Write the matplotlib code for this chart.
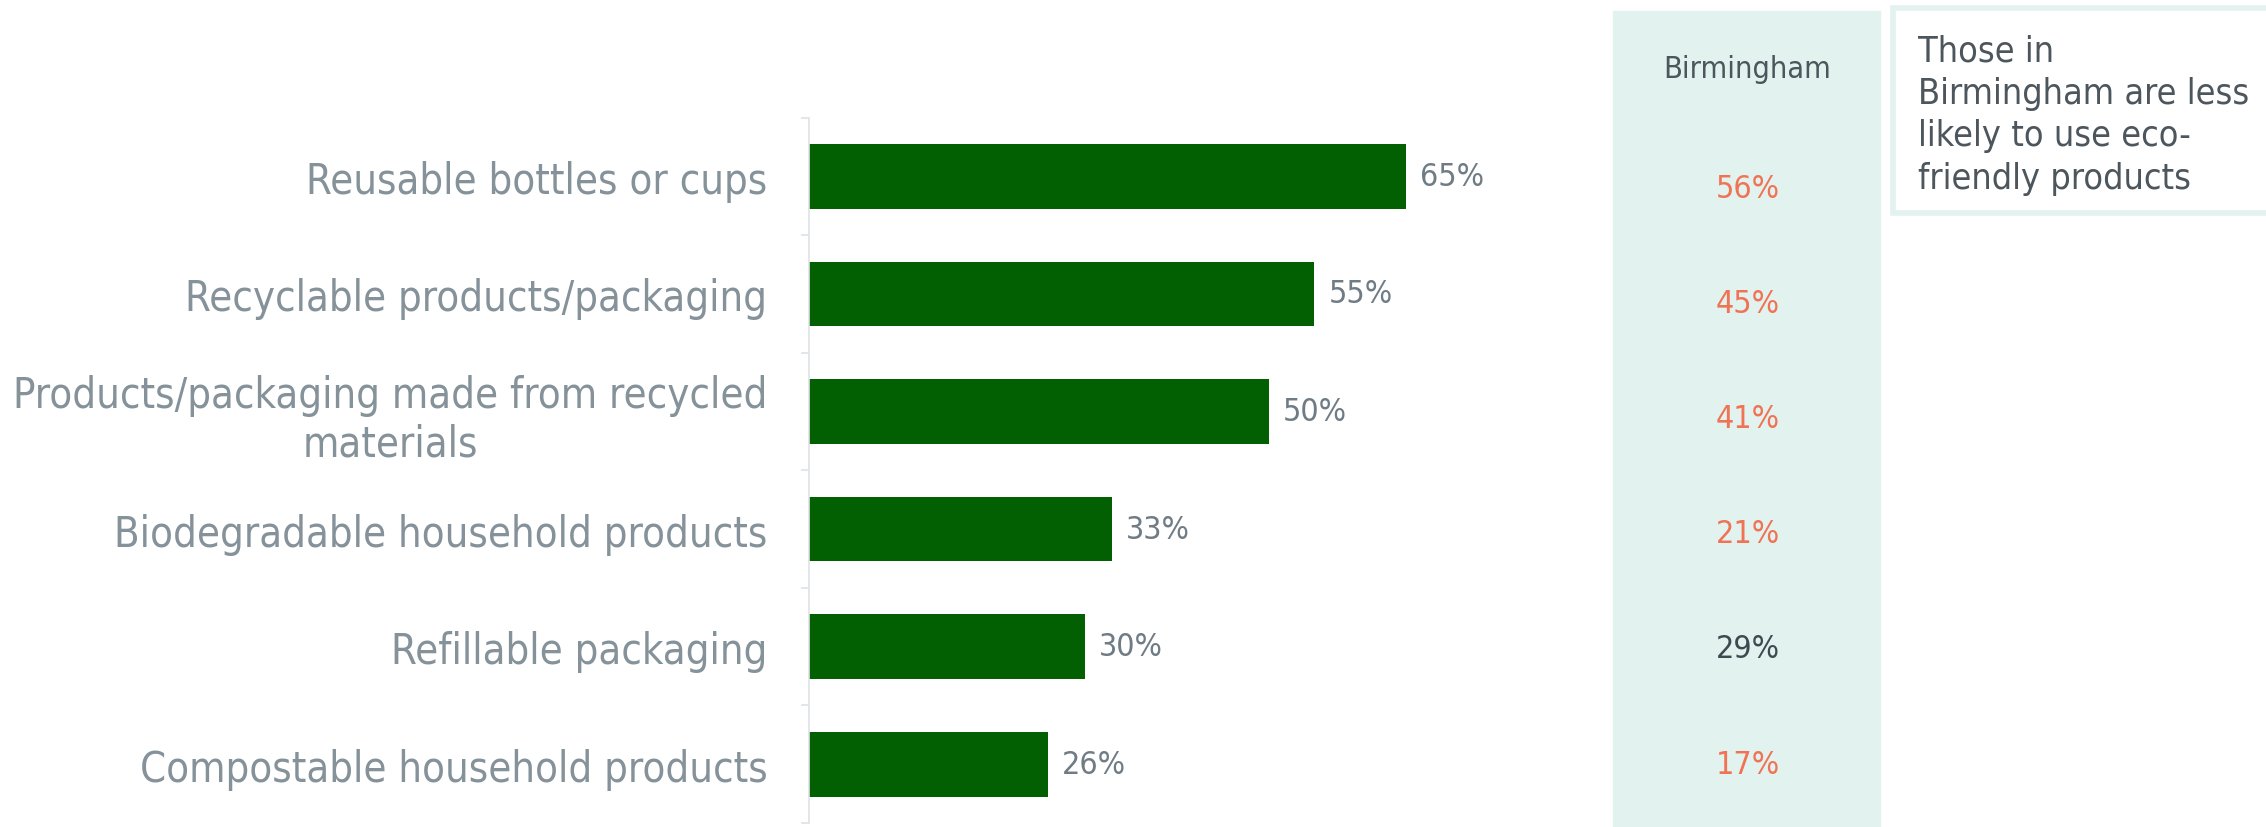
import matplotlib.pyplot as plt
from matplotlib.patches import Rectangle
from matplotlib.transforms import blended_transform_factory

categories = [
    "Reusable bottles or cups",
    "Recyclable products/packaging",
    "Products/packaging made from recycled\nmaterials",
    "Biodegradable household products",
    "Refillable packaging",
    "Compostable household products",
]
overall = [65, 55, 50, 33, 30, 26]
birmingham = [56, 45, 41, 21, 29, 17]
# regional figures that are notably lower get highlighted
highlight = [True, True, True, True, False, True]
note = "Those in\nBirmingham are less\nlikely to use eco-\nfriendly products"

plt.rcParams["font.family"] = ["DejaVu Sans"]
plt.rcParams["font.stretch"] = "condensed"

W, H = 2266, 828
fig = plt.figure(figsize=(W / 100, H / 100), dpi=100)

# bar chart area (kept above the figure-level panels)
ax = fig.add_axes([809 / W, 1 - 824 / H, 86 * 9.19 / W, (824 - 118.5) / H])
ax.set_zorder(3)
ax.patch.set_visible(False)
y = list(range(len(categories)))
bars = ax.barh(y, overall, height=0.55, color="#025f02")
ax.set_xlim(0, 86)
ax.set_ylim(len(categories) - 0.5, -0.5)

ax.set_yticks(y)
ax.set_yticklabels(categories, fontsize=30, color="#85929a", multialignment="center")
ax.tick_params(axis="y", which="major", length=0, pad=30)
ax.set_yticks([i - 0.5 for i in range(len(categories) + 1)], minor=True)
ax.tick_params(axis="y", which="minor", length=6, width=1.2, color="#dfe3e5")
ax.set_xticks([])
for s in ["top", "right", "bottom"]:
    ax.spines[s].set_visible(False)
ax.spines["left"].set_color("#dfe3e5")
ax.spines["left"].set_linewidth(1.2)

ax.bar_label(bars, labels=[f"{v}%" for v in overall], padding=10,
             fontsize=23, color="#6f7c85")

# Birmingham column
fig.patches.append(Rectangle((1613 / W, 0), 267 / W, (H - 11.5) / H,
                             transform=fig.transFigure, color="#e2f2ee", zorder=0))
fig.text(1747 / W, 1 - 69 / H, "Birmingham", ha="center", va="center",
         fontsize=22, color="#4c565c")
tr = blended_transform_factory(fig.transFigure, ax.transData)
for i, v in enumerate(birmingham):
    # table rows sit slightly off the bar centres
    ax.text(1748 / W, 0.1 + 0.98 * i, f"{v}%", transform=tr, ha="center",
            va="center", fontsize=23,
            color="#f07355" if highlight[i] else "#3f4a50", clip_on=False)

# callout box
fig.patches.append(Rectangle((1893 / W, 1 - 214 / H), 0.3, (214 - 9) / H,
                             transform=fig.transFigure, facecolor="white",
                             edgecolor="#e2f2ee", linewidth=4, zorder=1))
fig.text(1918 / W, 1 - 115 / H, note, ha="left", va="center", fontsize=25.8,
         color="#4c565c", linespacing=1.32, zorder=2)

fig.savefig("out.png", dpi=100)
